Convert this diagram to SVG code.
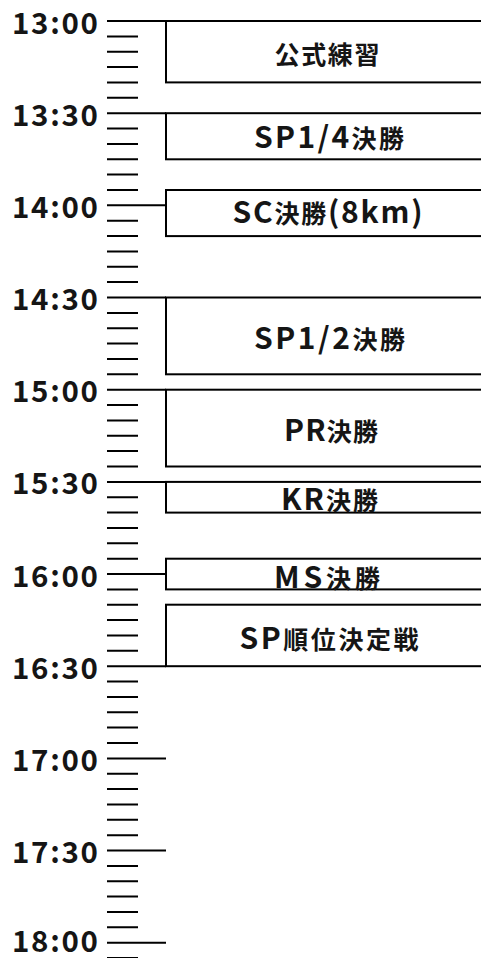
<svg xmlns="http://www.w3.org/2000/svg" width="481" height="958" viewBox="0 0 481 958">
<style>
.tick{stroke:#000;stroke-width:2;fill:none}
.box{stroke:#000;stroke-width:2;fill:#fff}
.time{font-family:"Noto Sans CJK JP","Noto Sans",sans-serif;font-size:29.5px;font-weight:bold;text-anchor:end;fill:#151515}
.lbl{font-family:"Noto Sans CJK JP","Noto Sans",sans-serif;font-size:25px;font-weight:bold;text-anchor:middle;fill:#151515}
.lat{font-size:30px}
</style>
<rect width="481" height="958" fill="#fff"/>
<g id="ticks" class="tick">
<path d="M107 36.4H138M107 51.7H138M107 67.1H138M107 82.4H138M107 97.8H138
M107 128.5H138M107 143.9H138M107 159.3H138M107 174.6H138M107 190H138
M107 220.7H138M107 236.1H138M107 251.4H138M107 266.8H138M107 282.1H138
M107 312.9H138M107 328.2H138M107 343.6H138M107 359H138M107 374.3H138
M107 405H138M107 420.4H138M107 435.8H138M107 451.1H138M107 466.5H138
M107 497.2H138M107 512.6H138M107 527.9H138M107 543.3H138M107 558.7H138
M107 589.4H138M107 604.7H138M107 620.1H138M107 635.5H138M107 650.8H138
M107 681.6H138M107 696.9H138M107 712.3H138M107 727.6H138M107 743H138
M107 773.7H138M107 789.1H138M107 804.4H138M107 819.8H138M107 835.2H138
M107 865.9H138M107 881.3H138M107 896.6H138M107 912H138M107 927.3H138
M107 958.1H138"/>
</g>
<g id="connectors" class="tick">
<path d="M107 21H166M107 113.2H166M107 205.3H166M107 297.5H166M107 389.7H166M107 481.9H166M107 574H166M107 666.2H166M107 758.4H166M107 850.5H166M107 942.7H166"/>
</g>
<g id="time-labels">
<text class="time" x="98" y="34" textLength="86" lengthAdjust="spacing">13:00</text>
<text class="time" x="98" y="125.7" textLength="86" lengthAdjust="spacing">13:30</text>
<text class="time" x="98" y="217.8" textLength="86" lengthAdjust="spacing">14:00</text>
<text class="time" x="98" y="310" textLength="86" lengthAdjust="spacing">14:30</text>
<text class="time" x="98" y="402.2" textLength="86" lengthAdjust="spacing">15:00</text>
<text class="time" x="98" y="494.4" textLength="86" lengthAdjust="spacing">15:30</text>
<text class="time" x="98" y="586.5" textLength="86" lengthAdjust="spacing">16:00</text>
<text class="time" x="98" y="678.7" textLength="86" lengthAdjust="spacing">16:30</text>
<text class="time" x="98" y="770.9" textLength="86" lengthAdjust="spacing">17:00</text>
<text class="time" x="98" y="863" textLength="86" lengthAdjust="spacing">17:30</text>
<text class="time" x="98" y="951.5" textLength="86" lengthAdjust="spacing">18:00</text>
</g>
<g id="node-practice">
<rect class="box" x="166" y="21" width="330" height="61.4"/>
<text class="lbl" x="327" y="64" textLength="105" lengthAdjust="spacing">公式練習</text>
</g>
<g id="node-sp-quarter">
<rect class="box" x="166" y="113.2" width="330" height="46.1"/>
<text class="lbl" x="329" y="148" textLength="150" lengthAdjust="spacing"><tspan class="lat">SP1/4</tspan>決勝</text>
</g>
<g id="node-sc-final">
<rect class="box" x="166" y="190" width="330" height="46.1"/>
<text class="lbl" x="327.5" y="222.5" textLength="190" lengthAdjust="spacing"><tspan class="lat">SC</tspan>決勝<tspan class="lat">(8km)</tspan></text>
</g>
<g id="node-sp-semi">
<rect class="box" x="166" y="297.5" width="330" height="76.8"/>
<text class="lbl" x="329.5" y="349" textLength="151" lengthAdjust="spacing"><tspan class="lat">SP1/2</tspan>決勝</text>
</g>
<g id="node-pr-final">
<rect class="box" x="166" y="389.7" width="330" height="76.8"/>
<text class="lbl" x="331" y="440.5" textLength="94" lengthAdjust="spacing"><tspan class="lat">PR</tspan>決勝</text>
</g>
<g id="node-kr-final">
<rect class="box" x="166" y="481.9" width="330" height="30.7"/>
<text class="lbl" x="329.5" y="510" textLength="97" lengthAdjust="spacing"><tspan class="lat">KR</tspan>決勝</text>
</g>
<g id="node-ms-final">
<rect class="box" x="166" y="558.7" width="330" height="30.7"/>
<text class="lbl" x="327" y="587.5" textLength="106" lengthAdjust="spacing"><tspan class="lat">MS</tspan>決勝</text>
</g>
<g id="node-sp-placing">
<rect class="box" x="166" y="604.7" width="330" height="61.5"/>
<text class="lbl" x="329" y="648.5" textLength="179" lengthAdjust="spacing"><tspan class="lat">SP</tspan>順位決定戦</text>
</g>
</svg>
